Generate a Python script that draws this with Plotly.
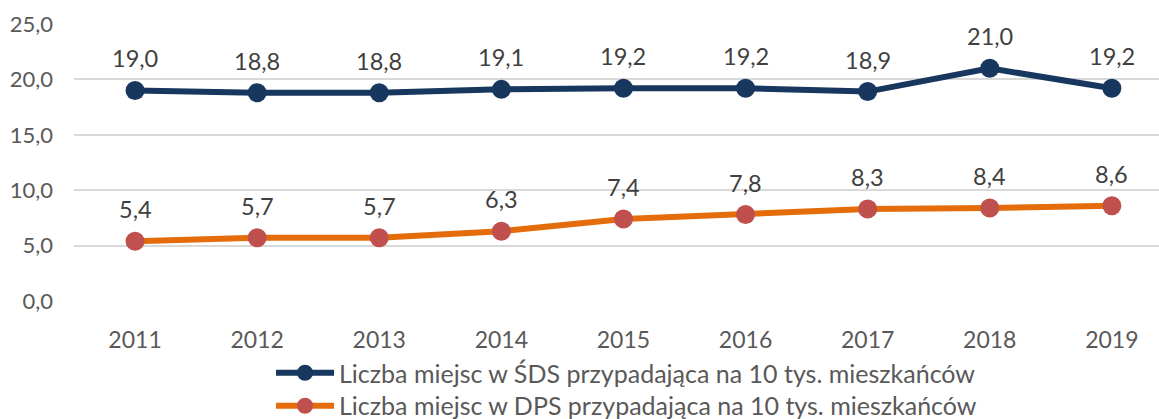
import plotly.graph_objects as go

years = ["2011", "2012", "2013", "2014", "2015", "2016", "2017", "2018", "2019"]
sds = [19.0, 18.8, 18.8, 19.1, 19.2, 19.2, 18.9, 21.0, 19.2]
dps = [5.4, 5.7, 5.7, 6.3, 7.4, 7.8, 8.3, 8.4, 8.6]
name_sds = "Liczba miejsc w ŚDS przypadająca na 10 tys. mieszkańców"
name_dps = "Liczba miejsc w DPS przypadająca na 10 tys. mieszkańców"

FONT = "Lato"
GRAY = "#595959"

fig = go.Figure()
fig.add_trace(go.Scatter(
    x=years, y=sds, name=name_sds, mode="lines+markers",
    line=dict(color="#17375E", width=6),
    marker=dict(color="#17375E", size=19),
    legend="legend",
))
fig.add_trace(go.Scatter(
    x=years, y=dps, name=name_dps, mode="lines+markers",
    line=dict(color="#E46C0A", width=6),
    marker=dict(color="#C0504D", size=19),
    legend="legend2",
))

annotations = []
for series in (sds, dps):
    for i, yv in enumerate(series):
        annotations.append(dict(
            x=i, y=yv, xref="x", yref="y",
            text=f"{yv:.1f}".replace(".", ","),
            showarrow=False, yshift=32,
            font=dict(family=FONT, size=23.5, color="#404040"),
        ))

leg_common = dict(
    orientation="v", x=0.1816, xanchor="left", yanchor="middle",
    itemwidth=58, tracegroupgap=0,
    font=dict(size=25, color=GRAY, family=FONT),
    bgcolor="rgba(0,0,0,0)",
)

fig.update_layout(
    width=1159, height=419,
    margin=dict(l=74, r=0, t=24, b=118, autoexpand=False),
    plot_bgcolor="white", paper_bgcolor="white",
    separators=", ",
    font=dict(family=FONT, size=23, color=GRAY),
    annotations=annotations,
    xaxis=dict(
        type="category", range=[-0.5, 8.386],
        showgrid=False, showline=False, zeroline=False,
        ticks="", ticklabelstandoff=23, automargin=False,
        tickfont=dict(size=23, color=GRAY),
    ),
    yaxis=dict(
        range=[0, 25], dtick=5, tickformat=".1f",
        showgrid=True, gridcolor="#D9D9D9", gridwidth=2,
        zeroline=False, showline=False, ticks="", automargin=False,
        ticklabelstandoff=20,
        tickfont=dict(size=22, color=GRAY),
    ),
    showlegend=True,
    legend=dict(y=-0.260, **leg_common),
    legend2=dict(y=-0.379, **leg_common),
)

fig.write_html("out.html", config={"displayModeBar": False},
               post_script="document.body.style.margin='0px';")
